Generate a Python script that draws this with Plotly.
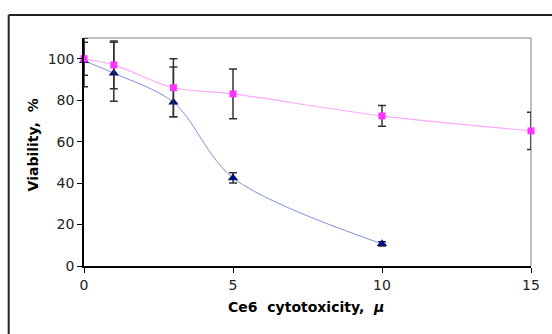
import plotly.graph_objects as go

conc = [0, 1, 3, 5, 10, 15]
pink_vals = [100, 97, 86, 83, 72.4, 65.2]
pink_err = [8, 11.5, 14, 12, 5, 9]

blue_x = [0, 1, 3, 5, 10]
blue_vals = [99, 93, 79, 42.5, 10.7]
blue_err_plus = [11, 15, 17, 2.5, 1]
blue_err_minus = [12.5, 13.5, 7, 2.5, 1]

x_ticks = [0, 5, 10, 15]
y_ticks = [0, 20, 40, 60, 80, 100]

fig = go.Figure()
fig.add_trace(go.Scatter(
    x=blue_x, y=blue_vals, mode="lines+markers",
    line=dict(color="#8090e0", width=1, shape="spline", smoothing=0.9),
    marker=dict(symbol="triangle-up", size=9, color="#00107a"),
    error_y=dict(type="data", array=blue_err_plus, arrayminus=blue_err_minus,
                 color="#333333", thickness=1.5, width=4),
    cliponaxis=False, showlegend=False))
fig.add_trace(go.Scatter(
    x=conc, y=pink_vals, mode="lines+markers",
    line=dict(color="#ffa8ff", width=1.2, shape="spline", smoothing=0.8),
    marker=dict(symbol="square", size=7, color="#ff33ff"),
    error_y=dict(type="data", array=pink_err, color="#333333", thickness=1.5, width=4),
    cliponaxis=False, showlegend=False))

fig.update_layout(
    width=552, height=334,
    margin=dict(l=83.5, r=17.5, t=38, b=68),
    plot_bgcolor="white", paper_bgcolor="white",
    font=dict(family="DejaVu Sans", size=14, color="#222222"),
    xaxis=dict(range=[0, 15], tickvals=x_ticks, showgrid=False, zeroline=False,
               showline=True, linecolor="black", linewidth=1.5,
               ticks="outside", ticklen=5, tickcolor="black"),
    yaxis=dict(range=[0, 110], tickvals=y_ticks, showgrid=False, zeroline=False,
               showline=True, linecolor="black", linewidth=1.5,
               ticks="outside", ticklen=5, tickcolor="black"),
    shapes=[
        dict(type="line", xref="paper", yref="paper", x0=0, x1=1, y0=1, y1=1,
             line=dict(color="#a8a8a8", width=1.5), layer="below"),
        dict(type="line", xref="paper", yref="paper", x0=1, x1=1, y0=0, y1=1,
             line=dict(color="#a8a8a8", width=1.5), layer="below"),
        dict(type="line", xref="paper", yref="paper", x0=-0.1685, x1=1.1, y0=1.1009, y1=1.1009,
             line=dict(color="#222222", width=2)),
        dict(type="line", xref="paper", yref="paper", x0=-0.1685, x1=-0.1685, y0=1.1009, y1=-0.4,
             line=dict(color="#222222", width=2)),
    ],
    annotations=[
        dict(text="<b>Ce6  cytotoxicity,  <i>μ</i></b>", xref="paper", yref="paper",
             x=0.318, y=-0.178, xanchor="left", yanchor="middle", showarrow=False,
             font=dict(family="DejaVu Sans", size=14, color="black")),
        dict(text="<b>Viability,  %</b>", xref="paper", yref="paper",
             x=-0.112, y=0.533, xanchor="center", yanchor="middle", showarrow=False,
             textangle=-90, font=dict(family="DejaVu Sans", size=14, color="black")),
    ],
)

fig.write_html("out.html")
